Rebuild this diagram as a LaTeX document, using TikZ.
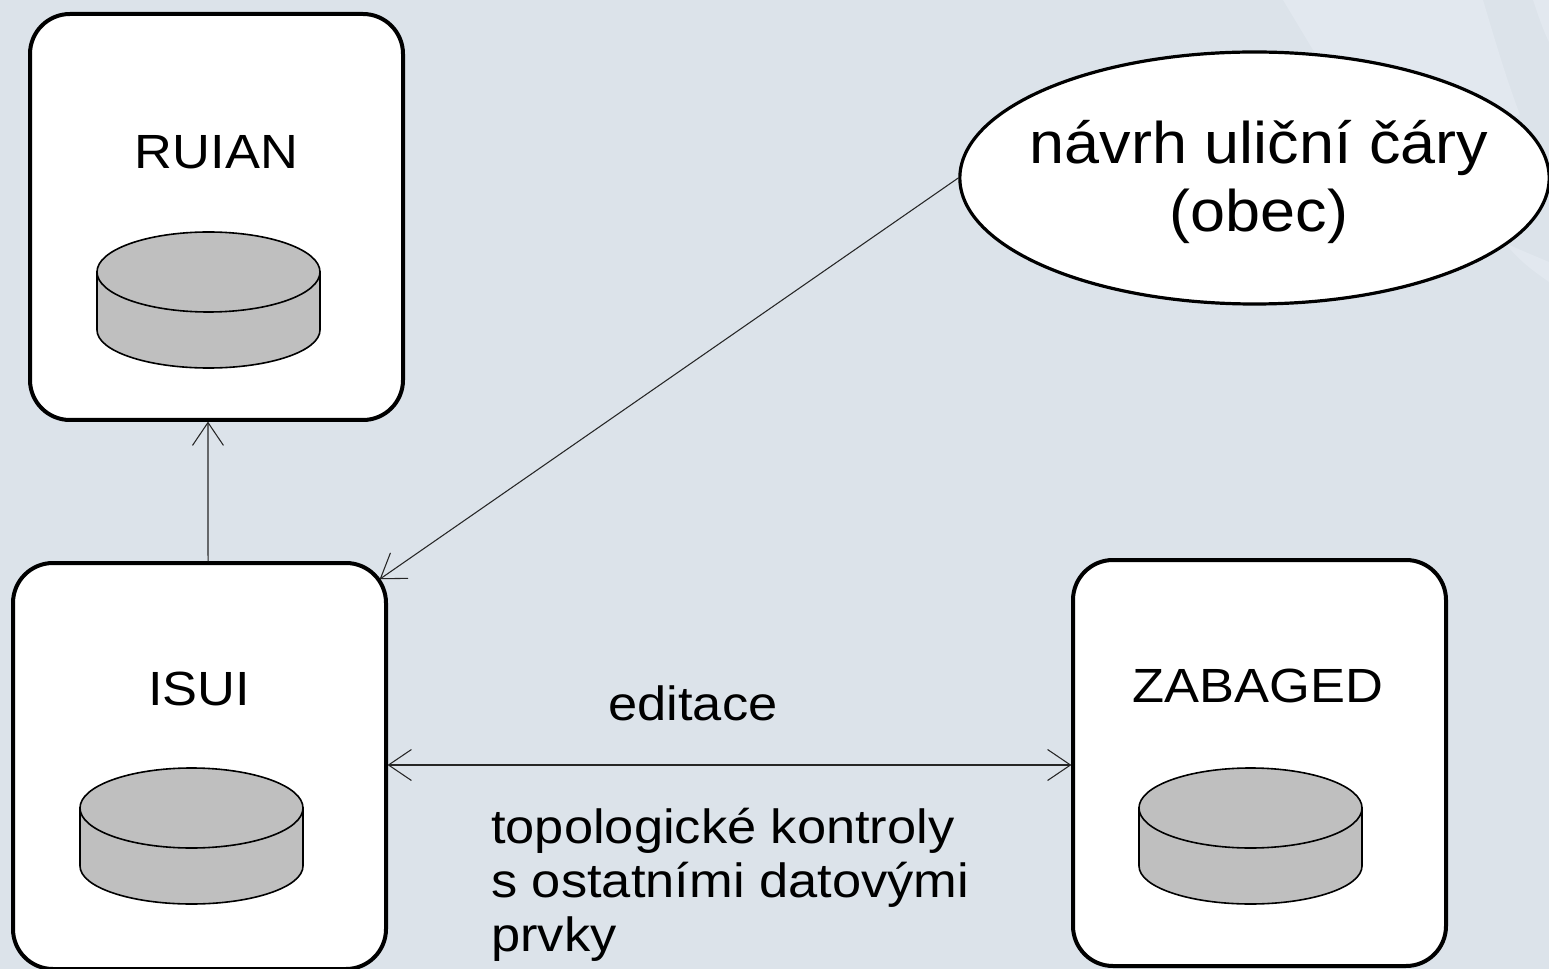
\documentclass[tikz,border=0pt]{standalone}
\usepackage{graphicx}
\usepackage{fontspec}
\setmainfont{Liberation Sans}
\usetikzlibrary{arrows.meta,shapes.geometric}
\definecolor{bg}{HTML}{DCE3EA}
\definecolor{swirl}{HTML}{E2E8EF}
\definecolor{disc}{HTML}{BFBFBF}
\newcommand{\widetxt}[1]{\scalebox{1.092}[1]{#1}}
\newcommand{\widebig}[1]{\scalebox{1.073}[1]{#1}}
\tikzset{
  x=0.75pt,y=-0.75pt,
  sysbox/.style={draw=black,fill=white,line width=3pt,rounded corners=30pt,minimum width=279.75pt,minimum height=304.5pt,inner sep=0pt},
  oval/.style={ellipse,draw=black,fill=white,line width=2.4pt,minimum width=442pt,minimum height=189pt,inner sep=0pt},
  lbl/.style={font=\fontsize{36pt}{40pt}\selectfont,inner sep=0pt,anchor=base},
  big/.style={font=\fontsize{44pt}{51pt}\selectfont,inner sep=0pt,align=center,anchor=base},
  txt/.style={font=\fontsize{36pt}{40.2pt}\selectfont,inner sep=0pt,align=left,anchor=base west},
  link/.style={draw=black!85,line width=0.8pt,line cap=round},
  tip/.style={-{Straight Barb[length=17pt,width=23pt,round]}},
  dbl/.style={{Straight Barb[length=17pt,width=23pt,round]}-{Straight Barb[length=17pt,width=23pt,round]}},
  disk/.style={draw=black,fill=disc,line width=1.2pt}
}
\newcommand{\drumdisk}[2]{%
  \path[disk] (#1-111.5,#2+40) -- (#1-111.5,#2+98) arc[start angle=180,end angle=0,x radius=111.5,y radius=38] -- (#1+111.5,#2+40) -- cycle;
  \path[disk] (#1,#2+40) ellipse[x radius=111.5,y radius=40];
}
\begin{document}
\begin{tikzpicture}
\useasboundingbox (0,0) rectangle (1549,969);
\fill[bg] (0,0) rectangle (1549,969);
\fill[swirl] (1283,0) -- (1483,0) .. controls (1495,40) and (1505,75) .. (1520,115) -- (1400,150) -- (1313,50) -- cycle;
\fill[swirl] (1533,0) .. controls (1538,15) and (1543,30) .. (1549,42) -- (1549,0) -- cycle;
\fill[swirl] (1505,243) .. controls (1520,250) and (1535,256) .. (1549,262) -- (1549,282) .. controls (1535,272) and (1520,262) .. (1505,243) -- cycle;
\node[sysbox] (ruian) at (216.5,217) {};
\node[sysbox] (isui) at (199.5,766) {};
\node[sysbox] (zabaged) at (1259.5,763) {};
\node[oval] (navrh) at (1254.5,178) {};
\node[big] (t0) at (1259,232) {\widebig{návrh uliční čáry}\\\widebig{(obec)}};
\node[lbl] (t1) at (216.5,169) {\widetxt{RUIAN}};
\node[lbl] (t2) at (199,705) {\widetxt{ISUI}};
\node[lbl] (t3) at (1258,702) {\widetxt{ZABAGED}};
\node[lbl] (t4) at (693,720) {\widetxt{editace}};
\node[txt] (t5) at (491,951) {\widetxt{topologické kontroly}\\\widetxt{s ostatními datovými}\\\widetxt{prvky}};
\drumdisk{208.5}{232}
\drumdisk{191.5}{768}
\drumdisk{1250.5}{768}
\draw[link,tip] ([xshift=6.4pt]isui.north) -- ([xshift=-6.4pt]ruian.south);
\draw[link,dbl] (isui.east |- 386,765) -- (zabaged.west |- 1073,765);
\draw[link,tip] (navrh.west) -- (380,579);
\end{tikzpicture}
\end{document}
